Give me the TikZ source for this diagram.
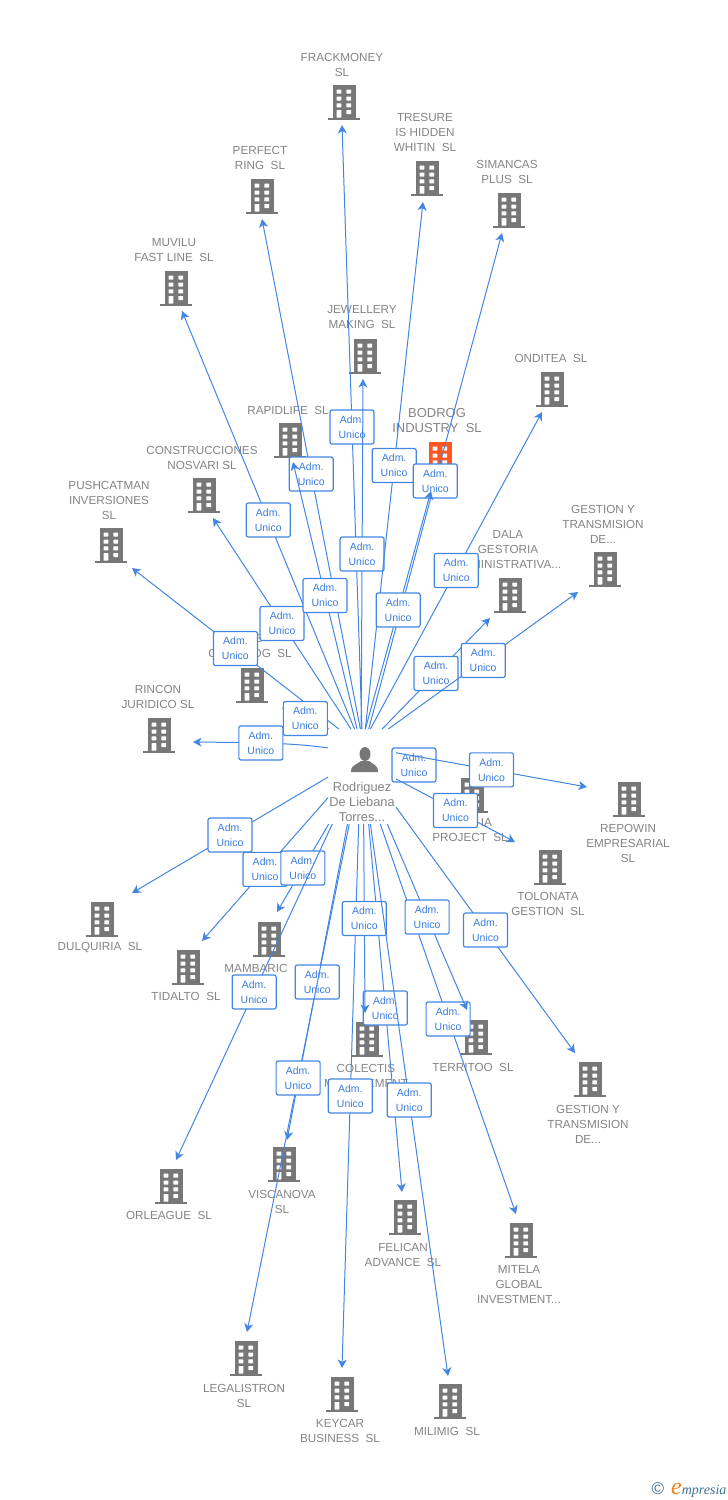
\documentclass[tikz,border=0pt]{standalone}
\usepackage{xcolor}
\usepackage{fontspec}
\setmainfont{Liberation Sans}
\newfontfamily\logofont{Liberation Serif}
\usetikzlibrary{arrows.meta, positioning, calc}
\definecolor{linkblue}{RGB}{66,133,226}
\definecolor{textblue}{RGB}{58,124,222}
\definecolor{bldggray}{RGB}{119,119,119}
\definecolor{labelgray}{RGB}{132,132,132}
\definecolor{accentorange}{RGB}{255,87,34}
\definecolor{logoblue}{RGB}{62,112,146}
\definecolor{logoorange}{RGB}{240,130,30}

\tikzset{
    link/.style={line width=1pt, linkblue, -{Stealth[length=8.5pt,width=9pt,inset=2.5pt]}},
    admbox/.style={draw=linkblue, line width=1.2pt, fill=white, rounded corners=2pt, text=textblue,
        minimum width=44pt, minimum height=34pt, inner sep=0pt, align=center,
        font=\fontsize{10.5}{15}\selectfont},
    coname/.style={text=labelgray, align=center, inner sep=0pt, font=\fontsize{11.7}{15}\selectfont},
    personframe/.style={rectangle, minimum width=68pt, minimum height=95pt, inner sep=0pt, outer sep=0pt}
}

% building icon: colour, x, y
\newcommand{\bldg}[3]{
    \begin{scope}[shift={(#2,#3)}]
        \fill[#1] (-11.5,-17) rectangle (11.5,16);
        \fill[#1] (-16,15.5) rectangle (16,18);
        \foreach \wx in {-7.5,2.3} {
            \foreach \wy in {-12.5,-5.5,1.3} {
                \fill[white, rounded corners=0.5pt] (\wx,\wy) rectangle (\wx+4.8,\wy+4);
            }
        }
        \fill[white, rounded corners=0.5pt] (-7.5,8) rectangle (-2.7,15.5);
        \fill[white, rounded corners=0.5pt] (2.3,8) rectangle (7.1,12);
    \end{scope}
}

\begin{document}
\begin{tikzpicture}[x=1pt,y=-1pt]
    \useasboundingbox (0,0) rectangle (728,1500);

    % Companies
    \foreach \nm/\bx/\by/\tx/\ty/\lbl in {
        frackmoney/344/102/342/64.5/{FRACKMONEY\\SL},
        tresure/427/178/425/132/{TRESURE\\IS HIDDEN\\WHITIN~~SL},
        simancas/509/210/507/171.5/{SIMANCAS\\PLUS~~SL},
        perfect/262/196/260/157.5/{PERFECT\\RING~~SL},
        muvilu/176/288/174/250.5/{MUVILU\\FAST LINE~~SL},
        jewellery/365/356/362/317.5/{JEWELLERY\\MAKING~~SL},
        rapidlife/290/440/288/410/{RAPIDLIFE~~SL},
        onditea/552/389/551/358/{ONDITEA~~SL},
        construcciones/204/495/202/457.5/{CONSTRUCCIONES\\NOSVARI SL},
        pushcatman/111/545/109/500/{PUSHCATMAN\\INVERSIONES\\SL},
        gestionup/605/569/603/524/{GESTION Y\\TRANSMISION\\DE...},
        dala/510/595/508/550/{DALA\\GESTORIA\\ADMINISTRATIVA...},
        catalog/252/685/250/646.5/{\hspace*{16pt}E\\C\hspace{36pt}OG~~SL},
        rincon/159/735/158/696.5/{RINCON\\JURIDICO SL},
        project/472/795/470/830.5/{\hspace*{33pt}IA\\PROJECT~~SL},
        repowin/629/799/628/843/{REPOWIN\\EMPRESARIAL\\SL},
        tolonata/550/867/548/903.5/{TOLONATA\\GESTION~~SL},
        dulquiria/102/919/100/948/{DULQUIRIA~~SL},
        tidalto/188/967/186/996/{TIDALTO~~SL},
        mambaric/269/939/256/968/{MAMBARIC},
        orleague/171/1186/169/1215/{ORLEAGUE~~SL},
        viscanova/284/1164/282/1201.5/{VISCANOVA\\SL},
        legalistron/246/1358/244/1395.5/{LEGALISTRON\\SL},
        keycar/342/1394/340/1430.5/{KEYCAR\\BUSINESS~~SL},
        milimig/450/1401/447/1431/{MILIMIG~~SL},
        felican/405/1217/403/1254.5/{FELICAN\\ADVANCE~~SL},
        mitela/521/1240/519/1285/{MITELA\\GLOBAL\\INVESTMENT...},
        territoo/476/1037/473/1067/{TERRITOO~~SL},
        colectis/367/1039/366/1075.5/{COLECTIS\\MANAGEMENT},
        gestiondown/590/1079/588/1124/{GESTION Y\\TRANSMISION\\DE...}} {
        \bldg{bldggray}{\bx}{\by}
        \node[coname] (\nm) at (\tx,\ty) {\lbl};
    }
    % Company in focus
    \bldg{accentorange}{440}{459}
    \node[coname, font=\fontsize{13}{15}\selectfont] (bodrog) at (437,420.5) {BODROG\\INDUSTRY~~SL};

    % Person
    \node[personframe] (person) at (362,776.5) {};
    \fill[bldggray] (365,754) ellipse (5.5 and 7);
    \fill[bldggray] (351,772) .. controls (351,765) and (356,765) .. (361,761) -- (369,761) .. controls (374,765) and (378,765) .. (378,772) -- cycle;
    \node[coname, font=\fontsize{12.8}{15}\selectfont] (personname) at (362,802) {Rodriguez\\De Liebana\\Torres...};

    % Box with no visible link
    \node[admbox] (projectadm) at (414,765) {Adm.\\Unico};

    % Links, angle on the person frame / company / arrow end
    \foreach \sa/\nm/\ex/\ey in {
        116.8/pushcatman/132/568, 103/construcciones/213/518, 99.6/muvilu/182/311,
        92.4/perfect/262/219, 96/rapidlife/293/462, 90/frackmoney/342/125,
        91.2/jewellery/363/379, 86.4/tresure/423/202, 82.8/simancas/502/233,
        86.4/bodrog/431/491, 80.4/onditea/542/412, 67.2/dala/490/618,
        61.3/gestionup/578/592, 125.6/catalog/282/708,
        35.8/repowin/587/787, -4.2/tolonata/515/842,
        -179/dulquiria/132/893, -148.9/tidalto/202/941, -125.6/mambaric/277/912,
        -122.3/orleague/176/1160, -107.5/viscanova/287/1140, -105.3/legalistron/247/1332,
        -94.8/keycar/342/1368, -82.8/felican/402/1192, -88.8/colectis/365/1013,
        -80.4/milimig/448/1376, -69.2/mitela/516/1214, -62.2/territoo/467/1010,
        -42.8/gestiondown/575/1053} {
        \coordinate (\nm in) at (\ex,\ey);
        \draw[link] (person.\sa) -- node[admbox] (\nm adm) {Adm.\\Unico} (\nm in);
    }
    % This one bends a little
    \coordinate (rincon in) at (193,742);
    \draw[link] (person.140) .. controls (290,742) and (232,742.5) .. node[admbox] (rinconadm) {Adm.\\Unico} (rincon in);

    % Logo
    \node[text=logoblue, inner sep=0pt, font=\fontsize{17}{17}\selectfont] (logoc) at (658,1489) {©};
    \node[inner sep=0pt, anchor=base west, font=\logofont\itshape\fontsize{14}{14}\selectfont, text=logoblue] (logo) at (671,1494)
        {\textcolor{logoorange}{\fontsize{24}{24}\selectfont e}mpresia};
\end{tikzpicture}
\end{document}
